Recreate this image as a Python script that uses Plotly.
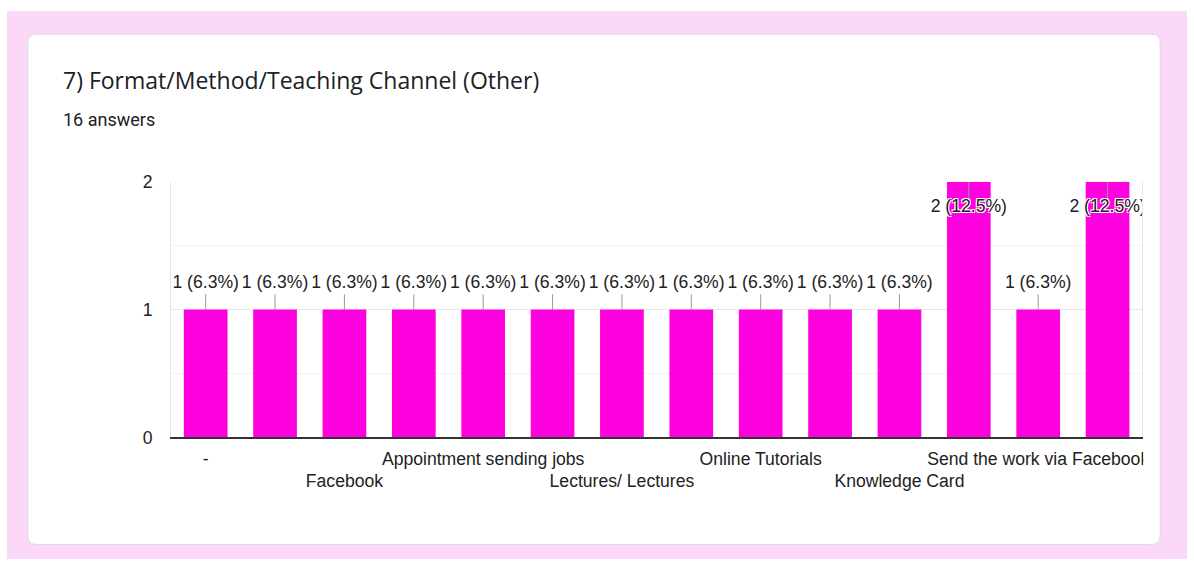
import plotly.graph_objects as go
from decimal import Decimal, ROUND_HALF_UP

W, H = 1194, 569

title = "7) Format/Method/Teaching Channel (Other)"
subtitle = "16 answers"
categories = ["-", "", "Facebook", "", "Appointment sending jobs", "", "Lectures/ Lectures", "",
              "Online Tutorials", "", "Knowledge Card", "", "Send the work via Facebook", ""]
values = [1, 1, 1, 1, 1, 1, 1, 1, 1, 1, 1, 2, 1, 2]
total = 16
y_ticks = [0, 1, 2]

BAR = "#ff00de"
PINK = "#fcd8f8"
CHART_FONT = "Liberation Sans, Arial"
FS = 17.6

x = list(range(len(values)))
ymax = max(values)


def pct(v):
    p = Decimal(v) * 100 / Decimal(total)
    return str(p.quantize(Decimal("0.1"), rounding=ROUND_HALF_UP))


labels = [f"{v} ({pct(v)}%)" for v in values]

lab_y, line_x, line_y = [], [], []
for i, v in enumerate(values):
    if v >= ymax:
        lab_y.append(v - 0.2)
        line_x += [i, i, None]
        line_y += [v, v - 0.14, None]
    else:
        lab_y.append(v + 0.2)
        line_x += [i, i, None]
        line_y += [v, v + 0.12, None]

ticktext = []
row = 0
for c in categories:
    if c:
        ticktext.append(c if row % 2 == 0 else "<br>" + c)
        row += 1
    else:
        ticktext.append("")

fig = go.Figure()
fig.add_trace(go.Bar(x=x, y=values, marker=dict(color=BAR, line=dict(width=0)),
                     hoverinfo="skip"))
fig.add_trace(go.Scatter(x=line_x, y=line_y, mode="lines",
                         line=dict(color="#999999", width=1), hoverinfo="skip"))
fig.add_trace(go.Scatter(x=x, y=lab_y, mode="text", text=labels, textposition="middle center",
                         cliponaxis=True,
                         textfont=dict(family=CHART_FONT, size=FS, color="#222222",
                                       shadow="1px 1px 0 white, -1px -1px 0 white, 1px -1px 0 white, -1px 1px 0 white"),
                         hoverinfo="skip"))


def px(v):
    return v / W


def py(v):
    return 1 - v / H


x0, x1, y0, y1, r = 28, 1167, 25, 554, 9
path = (f"M {px(x0 + r)} {py(y0)} L {px(x1 - r)} {py(y0)} Q {px(x1)} {py(y0)} {px(x1)} {py(y0 + r)} "
        f"L {px(x1)} {py(y1 - r)} Q {px(x1)} {py(y1)} {px(x1 - r)} {py(y1)} "
        f"L {px(x0 + r)} {py(y1)} Q {px(x0)} {py(y1)} {px(x0)} {py(y1 - r)} "
        f"L {px(x0)} {py(y0 + r)} Q {px(x0)} {py(y0)} {px(x0 + r)} {py(y0)} Z")

shapes = [
    dict(type="rect", xref="paper", yref="paper", x0=px(7), x1=1, y0=0, y1=py(1),
         fillcolor=PINK, line=dict(width=0), layer="below"),
    dict(type="path", xref="paper", yref="paper", path=path, fillcolor="white",
         line=dict(color="#dadce0", width=1), layer="below"),
    dict(type="rect", xref="paper", yref="paper", x0=px(1150), x1=px(1166), y0=py(505), y1=py(448),
         fillcolor="white", line=dict(width=0), layer="above"),
]

fig.update_layout(
    width=W, height=H,
    margin=dict(l=0, r=0, t=0, b=0),
    paper_bgcolor="white", plot_bgcolor="rgba(0,0,0,0)",
    showlegend=False, bargap=0.37,
    shapes=shapes,
    annotations=[
        dict(text=title, xref="paper", yref="paper", x=px(61), y=py(73), xanchor="left", yanchor="middle",
             showarrow=False, font=dict(family="Open Sans", size=23, color="#202124")),
        dict(text=subtitle, xref="paper", yref="paper", x=px(61), y=py(114), xanchor="left", yanchor="middle",
             showarrow=False, font=dict(family="Roboto", size=18, color="#202124")),
    ],
    xaxis=dict(domain=[px(172), px(1149)], range=[-0.5, len(values) - 0.5],
               tickmode="array", tickvals=x, ticktext=ticktext, ticks="", showgrid=False,
               tickangle=0,
               showline=True, linecolor="#333333", linewidth=2, zeroline=False,
               tickfont=dict(family=CHART_FONT, size=FS, color="#222222"),
               ticklabelstandoff=4, fixedrange=True),
    yaxis=dict(domain=[py(443), py(178)], range=[0, ymax], tickmode="array", tickvals=y_ticks,
               showgrid=True, gridcolor="#e6e6e6", gridwidth=1, zeroline=False,
               minor=dict(dtick=0.5, showgrid=True, gridcolor="#f3f3f3", ticks=""),
               showline=True, mirror=True, linecolor="#e6e6e6", linewidth=1,
               tickfont=dict(family=CHART_FONT, size=FS, color="#222222"),
               ticks="", ticklabelstandoff=14, fixedrange=True),
)

fig.write_html(
    "out.html", config={"displayModeBar": False},
    post_script=(
        "document.body.style.margin='0';document.body.style.overflow='hidden';"
        "document.body.style.background='transparent';"
        "document.documentElement.style.background="
        "'linear-gradient(to bottom, #ffffff 0px, #ffffff 9px, " + PINK + " 9px) no-repeat, " + PINK + "';"
    ),
)
